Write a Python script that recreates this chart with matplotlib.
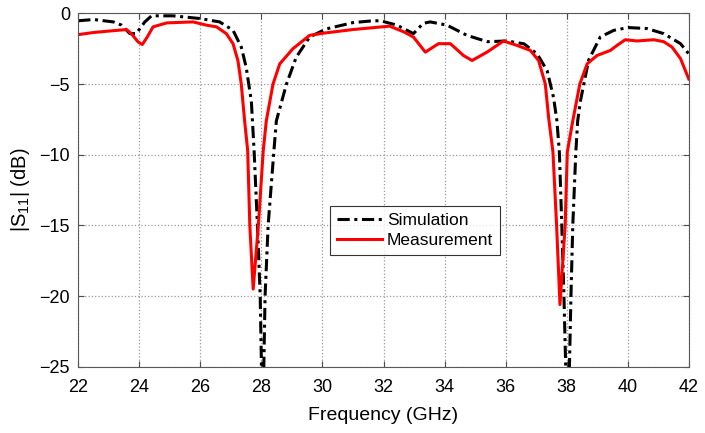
import numpy as np
import matplotlib
matplotlib.use("Agg")
import matplotlib.pyplot as plt

plt.rcParams['font.family'] = ['Liberation Sans', 'DejaVu Sans']
plt.rcParams['mathtext.default'] = 'regular'

# Simulation (black dash-dot)
sim_freq = [22.0, 22.5, 23.15, 23.42, 23.69, 23.9, 24.18, 24.4, 25.1, 25.98,
            26.63, 27.07, 27.34, 27.5, 27.67, 27.76, 27.87, 27.96, 28.01, 28.07,
            28.12, 28.22, 28.41, 28.49, 28.82, 29.14, 29.58, 30.12, 31.0, 31.65,
            31.9, 32.44, 32.98, 33.3, 33.53, 34.08, 34.73, 35.4, 36.04, 36.6,
            37.03, 37.36, 37.57, 37.68, 37.76, 37.84, 37.91, 37.98, 38.08, 38.14,
            38.2, 38.3, 38.36, 38.45, 38.72, 39.1, 39.54, 40.01, 40.63, 41.18,
            41.73, 42.0]
sim_s11 = [-0.52, -0.43, -0.6, -0.83, -1.43, -1.43, -0.6, -0.17, -0.17, -0.36,
           -0.6, -1.19, -2.38, -3.8, -6.2, -9.7, -15.0, -20.0, -26.0, -26.0,
           -20.0, -15.0, -9.7, -7.6, -5.0, -3.1, -1.67, -1.1, -0.65, -0.52,
           -0.52, -0.83, -1.43, -0.7, -0.6, -0.83, -1.55, -2.0, -1.95, -2.15,
           -2.86, -4.05, -5.95, -7.6, -9.8, -15.0, -20.0, -26.0, -26.0, -20.0,
           -15.0, -9.8, -7.6, -6.2, -3.3, -1.67, -1.2, -1.0, -1.07, -1.43,
           -2.14, -2.86]

# Measurement (red solid)
meas_freq = [22.0, 22.5, 23.0, 23.58, 23.74, 23.96, 24.1, 24.26, 24.45, 24.9,
             25.76, 26.2, 26.53, 26.85, 27.07, 27.23, 27.34, 27.45, 27.55, 27.62,
             27.73, 27.9, 28.06, 28.16, 28.38, 28.6, 29.03, 29.58, 30.02, 31.0,
             32.2, 32.66, 32.98, 33.37, 33.8, 34.19, 34.62, 34.9, 35.39, 35.93,
             36.37, 36.81, 37.08, 37.3, 37.41, 37.55, 37.67, 37.78, 37.95, 38.02,
             38.2, 38.43, 38.67, 38.99, 39.43, 39.65, 39.92, 40.3, 40.85, 41.18,
             41.45, 41.73, 42.0]
meas_s11 = [-1.5, -1.35, -1.25, -1.14, -1.43, -2.02, -2.2, -1.67, -0.95, -0.67,
            -0.6, -0.83, -0.95, -1.43, -2.14, -3.33, -5.0, -7.6, -9.7, -15.0,
            -19.5, -15.0, -9.7, -7.6, -5.0, -3.57, -2.5, -1.55, -1.4, -1.14,
            -0.9, -1.3, -1.67, -2.74, -2.14, -2.14, -2.98, -3.33, -2.74, -1.95,
            -2.26, -2.62, -3.33, -5.0, -7.4, -9.8, -15.0, -20.6, -15.0, -9.8,
            -7.6, -5.0, -3.57, -2.98, -2.62, -2.26, -1.86, -1.95, -1.86, -2.0,
            -2.38, -3.2, -4.64]

fig = plt.figure(figsize=(7.05, 4.33), dpi=100)
ax = fig.add_axes([0.111, 0.153, 0.866, 0.816])

ax.plot(sim_freq, sim_s11, color='black', lw=2.2,
        linestyle=(0, (4, 1.5, 1, 1.5)), label='Simulation')
ax.plot(meas_freq, meas_s11, color='red', lw=2.2, label='Measurement')

ax.set_xlim(22, 42)
ax.set_ylim(-25, 0)
ax.set_xticks(np.arange(22, 43, 2))
ax.set_yticks(np.arange(-25, 1, 5))
ax.grid(True, linestyle=':', color='0.6', linewidth=0.9)
ax.tick_params(direction='in', top=True, right=True, labelsize=13,
               length=4, color='0.3')
ax.tick_params(axis='x', pad=9)
ax.tick_params(axis='y', pad=6)
for s in ax.spines.values():
    s.set_color('0.35')
    s.set_linewidth(0.8)

ax.set_xlabel('Frequency (GHz)', fontsize=14, labelpad=8)
ax.set_ylabel('|S$_{11}$| (dB)', fontsize=14.5, labelpad=5)

leg = ax.legend(loc='upper left', bbox_to_anchor=(0.412, 0.455), fontsize=12.5,
                frameon=True, fancybox=False, edgecolor='black',
                handlelength=2.6, borderpad=0.4, labelspacing=0.3,
                handletextpad=0.3, borderaxespad=0)
leg.get_frame().set_linewidth(0.8)

fig.savefig('out.png', dpi=100)
